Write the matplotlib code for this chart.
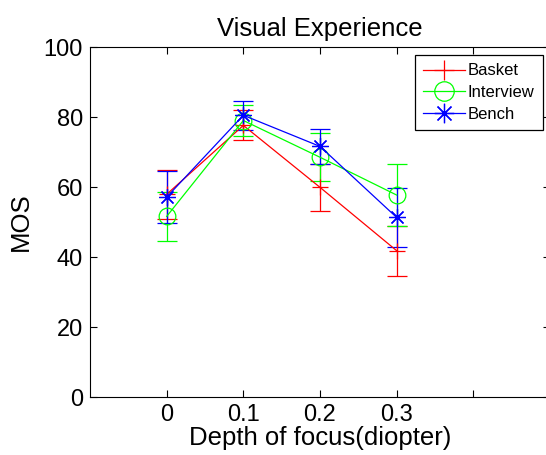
import numpy as np
import matplotlib
matplotlib.use('Agg')
from matplotlib import pyplot as plt
from matplotlib.lines import Line2D

plt.rcParams['font.family'] = ['Liberation Sans', 'DejaVu Sans']

# depth of focus values (diopter)
depth = [0.0, 0.1, 0.2, 0.3]
tickLabels = ['0', '0.1', '0.2', '0.3']

# MOS and error (half length) for each scene
basketMOS = [57.9, 77.6, 59.9, 41.8]
basketErr = [7.1, 4.3, 6.8, 7.1]
interviewMOS = [51.6, 79.0, 68.5, 57.7]
interviewErr = [7.0, 4.3, 6.8, 8.9]
benchMOS = [57.1, 80.5, 71.6, 51.3]
benchErr = [7.5, 4.1, 4.9, 8.3]

green = '#00ff00'
star = (8, 2, 0)  # matlab style asterisk

fig = plt.figure(figsize=[5.46, 4.55], dpi=100)
ax = fig.add_axes([90 / 546, 58 / 455, 460 / 546, 350 / 455])

args = dict(linewidth=0.9, elinewidth=0.9, capsize=7, capthick=0.9, markersize=12, markeredgewidth=0.9,
            markerfacecolor='none')
ax.errorbar(depth, basketMOS, yerr=basketErr, color='r', marker='+', **args)
ax.errorbar(depth, interviewMOS, yerr=interviewErr, color=green, marker='o', **args)
ax.errorbar(depth, benchMOS, yerr=benchErr, color='b', marker=star, **args)
# small dot at the centre of the star like matlab draws
ax.plot(depth, benchMOS, linestyle='none', marker='.', color='b', markersize=5)

ax.set_xlim(-0.1, 0.5)
ax.set_ylim(0, 100)
ax.set_xticks([0.0, 0.1, 0.2, 0.3, 0.4])
ax.set_xticklabels(tickLabels + [''])
ax.set_yticks(np.arange(0, 101, 20))
ax.tick_params(direction='in', length=5, width=0.8, top=True, right=True, labelsize=17, pad=5)

ax.set_xlabel('Depth of focus(diopter)', fontsize=18.5, labelpad=0)
ax.set_ylabel('MOS', fontsize=18.5, labelpad=8)
ax.set_title('Visual Experience', fontsize=18.5, pad=8)

handles = [Line2D([], [], color='r', marker='+', markersize=14, linewidth=0.9, markeredgewidth=0.9),
           Line2D([], [], color=green, marker='o', markersize=14, linewidth=0.9, markeredgewidth=0.9,
                  markerfacecolor='none'),
           Line2D([], [], color='b', marker=star, markersize=14, linewidth=0.9, markeredgewidth=0.9)]
leg = ax.legend(handles, ['Basket', 'Interview', 'Bench'], loc='upper right',
                bbox_to_anchor=(543 / 546, 1 - 55 / 455), bbox_transform=fig.transFigure,
                borderaxespad=0, fontsize=12, fancybox=False, edgecolor='k', framealpha=1,
                handlelength=2.5, handletextpad=0.2, borderpad=0.5, labelspacing=0.4)
leg.get_frame().set_linewidth(0.9)

fig.savefig('out.png', dpi=100)
